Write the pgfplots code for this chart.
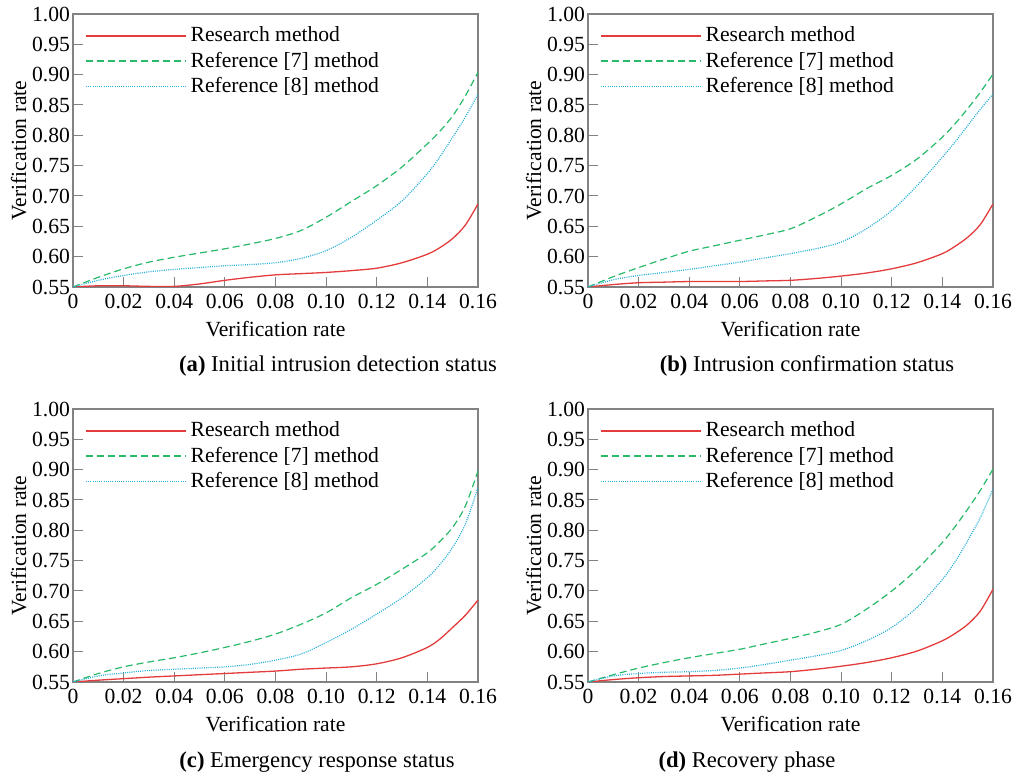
\documentclass[border=0pt]{standalone}
\usepackage{fontspec}
\setmainfont{Liberation Serif}
\usepackage{pgfplots}
\pgfplotsset{compat=1.18}
\definecolor{resred}{RGB}{228,60,60}
\definecolor{refgreen}{RGB}{40,185,105}
\definecolor{refcyan}{RGB}{35,175,215}
\definecolor{framegray}{RGB}{130,130,130}

\pgfplotsset{
  panel/.style={
    width=202.5pt, height=136.5pt, scale only axis,
    xmin=0, xmax=0.16, ymin=0.55, ymax=1.00,
    xtick={0,0.02,0.04,0.06,0.08,0.10,0.12,0.14,0.16},
    xticklabels={0,0.02,0.04,0.06,0.08,0.10,0.12,0.14,0.16},
    ytick={0.55,0.60,0.65,0.70,0.75,0.80,0.85,0.90,0.95,1.00},
    yticklabel style={/pgf/number format/fixed, /pgf/number format/fixed zerofill,
      /pgf/number format/precision=2, xshift=2pt},
    /pgf/number format/assume math mode=true,
    tick align=inside, major tick length=5pt,
    xtick pos=bottom, ytick pos=left,
    tick style={framegray, line width=0.5pt},
    axis line style={framegray, line width=0.7pt},
    every tick label/.append style={font=\fontsize{10.8}{12}\selectfont},
    label style={font=\fontsize{10.8}{12}\selectfont},
    xlabel={Verification rate}, ylabel={Verification rate},
    xlabel style={yshift=0.5pt}, ylabel style={yshift=-4pt},
    legend cell align=left,
    legend style={draw=none, fill=none, at={(axis description cs:0,1)}, anchor=north west,
      xshift=4pt, yshift=-2.3pt, font=\fontsize{10.8}{12}\selectfont, row sep=-0.5pt,
      inner xsep=2pt},
    legend image code/.code={\draw[#1] (0pt,0pt) -- (50pt,0pt);},
  },
  res/.style={resred, line width=0.65pt, smooth, tension=0.5},
  r7/.style={refgreen, line width=0.6pt, dash pattern=on 3.5pt off 2pt, smooth, tension=0.5},
  r8/.style={refcyan, line width=0.6pt, dash pattern=on 0.5pt off 0.6pt, smooth, tension=0.5},
}

\begin{document}
\begin{tikzpicture}
\path (0pt,0pt) rectangle (510.5pt,388pt);

% (a)
\begin{axis}[panel, at={(36.5pt,246.5pt)}, anchor=south west]
\addplot[res] coordinates {(0,0.550) (0.01,0.552) (0.02,0.552) (0.03,0.551) (0.04,0.551) (0.05,0.555) (0.06,0.561) (0.07,0.566) (0.08,0.570) (0.09,0.572) (0.10,0.574) (0.11,0.577) (0.12,0.581) (0.13,0.590) (0.14,0.604) (0.145,0.615) (0.15,0.630) (0.155,0.652) (0.16,0.687)};
\addlegendentry{Research method}
\addplot[r7] coordinates {(0,0.550) (0.01,0.566) (0.02,0.580) (0.03,0.591) (0.04,0.599) (0.05,0.606) (0.06,0.613) (0.07,0.621) (0.08,0.630) (0.09,0.643) (0.10,0.665) (0.11,0.691) (0.12,0.717) (0.13,0.748) (0.14,0.786) (0.145,0.807) (0.15,0.832) (0.155,0.865) (0.16,0.904)};
\addlegendentry{Reference [7] method}
\addplot[r8] coordinates {(0,0.550) (0.01,0.561) (0.02,0.569) (0.03,0.575) (0.04,0.579) (0.05,0.582) (0.06,0.585) (0.07,0.587) (0.08,0.590) (0.09,0.597) (0.10,0.610) (0.11,0.632) (0.12,0.660) (0.13,0.692) (0.14,0.737) (0.145,0.765) (0.15,0.797) (0.155,0.830) (0.16,0.868)};
\addlegendentry{Reference [8] method}
\end{axis}

% (b)
\begin{axis}[panel, at={(294pt,246.5pt)}, anchor=south west]
\addplot[res] coordinates {(0,0.550) (0.01,0.554) (0.02,0.557) (0.03,0.558) (0.04,0.559) (0.05,0.559) (0.06,0.559) (0.07,0.560) (0.08,0.561) (0.09,0.564) (0.10,0.568) (0.11,0.573) (0.12,0.580) (0.13,0.590) (0.14,0.605) (0.145,0.617) (0.15,0.632) (0.155,0.653) (0.16,0.687)};
\addlegendentry{Research method}
\addplot[r7] coordinates {(0,0.550) (0.01,0.567) (0.02,0.582) (0.03,0.596) (0.04,0.609) (0.05,0.618) (0.06,0.627) (0.07,0.636) (0.08,0.646) (0.09,0.665) (0.10,0.687) (0.11,0.712) (0.12,0.734) (0.13,0.761) (0.14,0.797) (0.145,0.819) (0.15,0.844) (0.155,0.871) (0.16,0.901)};
\addlegendentry{Reference [7] method}
\addplot[r8] coordinates {(0,0.550) (0.01,0.562) (0.02,0.569) (0.03,0.574) (0.04,0.579) (0.05,0.585) (0.06,0.591) (0.07,0.598) (0.08,0.605) (0.09,0.613) (0.10,0.624) (0.11,0.646) (0.12,0.676) (0.13,0.717) (0.14,0.764) (0.145,0.789) (0.15,0.816) (0.155,0.843) (0.16,0.868)};
\addlegendentry{Reference [8] method}
\end{axis}

% (c)
\begin{axis}[panel, at={(36.5pt,49pt)}, anchor=south west]
\addplot[res] coordinates {(0,0.550) (0.01,0.553) (0.02,0.5555) (0.03,0.558) (0.04,0.560) (0.05,0.562) (0.06,0.564) (0.07,0.566) (0.08,0.568) (0.09,0.571) (0.10,0.573) (0.11,0.575) (0.12,0.580) (0.13,0.590) (0.14,0.607) (0.145,0.621) (0.15,0.640) (0.155,0.660) (0.16,0.685)};
\addlegendentry{Research method}
\addplot[r7] coordinates {(0,0.550) (0.01,0.564) (0.02,0.575) (0.03,0.583) (0.04,0.590) (0.05,0.598) (0.06,0.607) (0.07,0.617) (0.08,0.629) (0.09,0.645) (0.10,0.664) (0.11,0.689) (0.12,0.711) (0.13,0.736) (0.14,0.763) (0.145,0.782) (0.15,0.805) (0.155,0.840) (0.16,0.898)};
\addlegendentry{Reference [7] method}
\addplot[r8] coordinates {(0,0.550) (0.01,0.560) (0.02,0.565) (0.03,0.569) (0.04,0.571) (0.05,0.573) (0.06,0.575) (0.07,0.579) (0.08,0.586) (0.09,0.596) (0.10,0.615) (0.11,0.637) (0.12,0.662) (0.13,0.689) (0.14,0.722) (0.145,0.744) (0.15,0.772) (0.155,0.810) (0.16,0.871)};
\addlegendentry{Reference [8] method}
\end{axis}

% (d)
\begin{axis}[panel, at={(294pt,49pt)}, anchor=south west]
\addplot[res] coordinates {(0,0.550) (0.01,0.554) (0.02,0.557) (0.03,0.559) (0.04,0.560) (0.05,0.561) (0.06,0.563) (0.07,0.565) (0.08,0.567) (0.09,0.571) (0.10,0.576) (0.11,0.582) (0.12,0.590) (0.13,0.601) (0.14,0.618) (0.145,0.630) (0.15,0.645) (0.155,0.667) (0.16,0.703)};
\addlegendentry{Research method}
\addplot[r7] coordinates {(0,0.550) (0.01,0.562) (0.02,0.573) (0.03,0.582) (0.04,0.590) (0.05,0.597) (0.06,0.604) (0.07,0.613) (0.08,0.622) (0.09,0.632) (0.10,0.645) (0.11,0.670) (0.12,0.700) (0.13,0.736) (0.14,0.780) (0.145,0.806) (0.15,0.835) (0.155,0.866) (0.16,0.901)};
\addlegendentry{Reference [7] method}
\addplot[r8] coordinates {(0,0.550) (0.01,0.560) (0.02,0.564) (0.03,0.566) (0.04,0.567) (0.05,0.569) (0.06,0.573) (0.07,0.579) (0.08,0.586) (0.09,0.593) (0.10,0.602) (0.11,0.618) (0.12,0.640) (0.13,0.673) (0.14,0.719) (0.145,0.748) (0.15,0.783) (0.155,0.821) (0.16,0.868)};
\addlegendentry{Reference [8] method}
\end{axis}

\node[font=\fontsize{11.3}{13}\selectfont] at (169pt,207pt) {\textbf{(a)} Initial intrusion detection status};
\node[font=\fontsize{11.3}{13}\selectfont] at (403.5pt,207pt) {\textbf{(b)} Intrusion confirmation status};
\node[font=\fontsize{11.3}{13}\selectfont] at (158.5pt,9pt) {\textbf{(c)} Emergency response status};
\node[font=\fontsize{11.3}{13}\selectfont] at (373.5pt,9pt) {\textbf{(d)} Recovery phase};
\end{tikzpicture}
\end{document}
